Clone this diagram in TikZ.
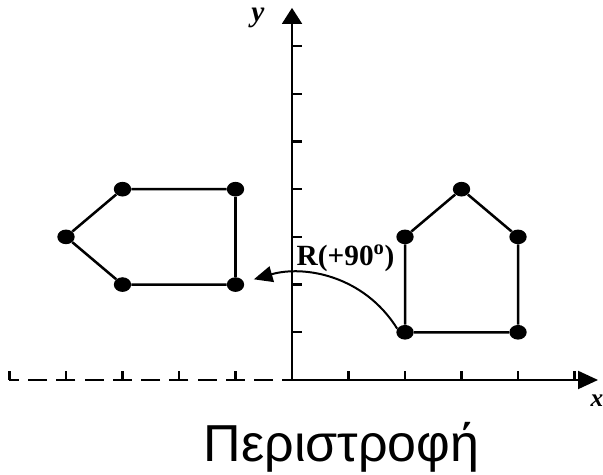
\documentclass[tikz,border=0pt]{standalone}
\usepackage{fontspec}
\setmainfont{Liberation Serif}
\newfontfamily\greekfont{Liberation Sans}
\usetikzlibrary{shapes.geometric, arrows.meta}
\tikzset{
  axisline/.style={line width=1.5pt, color=black},
  negaxis/.style={line width=1.6pt, dash pattern=on 14.25pt off 6.94pt, dash phase=7.1pt},
  tickmark/.style={line width=1.8pt},
  vertex/.style={ellipse, fill=black, inner sep=0pt, minimum width=13pt, minimum height=11pt},
  houseline/.style={line width=1.9pt},
  rotarrow/.style={-{Triangle[length=14pt,width=12pt]}, line width=1.5pt, shorten >=7.7pt},
  axislabel/.style={anchor=base, font=\bfseries\itshape\fontsize{22}{22}\selectfont}
}

\begin{document}
\begin{tikzpicture}[x=1.4893cm, y=1.2573cm]
  \useasboundingbox (-5.168,-1.971) rectangle (5.504,7.966);
  \coordinate (O) at (0,0);
  \coordinate (xend) at (5.416,0);
  \coordinate (yend) at (0,7.80);
  \coordinate (xneg) at (-5,0);
  \draw[axisline, -{Triangle[length=15pt,width=13.5pt]}] (O) -- (xend);
  \draw[axisline, -{Triangle[length=12pt,width=15pt]}] (O) -- (yend);
  \draw[negaxis] (O) -- (xneg);
  \foreach \i in {1,...,5} {
    \draw[tickmark] (\i,0) -- ++(0,0.19);
    \draw[tickmark] (-\i,0) -- ++(0,0.19);
  }
  \foreach \j in {1,...,7}
    \draw[tickmark] (0,\j) -- ++(0.177,0);
  \node[axislabel, font=\bfseries\itshape\fontsize{19}{19}\selectfont] (xlab) at (5.398,-0.566) {x};
  \node[axislabel] (ylab) at (-0.602,7.505) {y};

  \node[vertex] (h1) at (2,1) {};
  \node[vertex] (h2) at (4,1) {};
  \node[vertex] (h3) at (4,3) {};
  \node[vertex] (h4) at (3,4) {};
  \node[vertex] (h5) at (2,3) {};
  \draw[houseline] (h1) -- (h2) -- (h3) -- (h4) -- (h5) -- (h1);

  \node[vertex] (r1) at (-1,2) {};
  \node[vertex] (r2) at (-1,4) {};
  \node[vertex] (r3) at (-3,4) {};
  \node[vertex] (r4) at (-4,3) {};
  \node[vertex] (r5) at (-3,2) {};
  \draw[houseline] (r1) -- (r2) -- (r3) -- (r4) -- (r5) -- (r1);

  \draw[rotarrow] (h1.155) to[out=122, in=16] (r1.16);
  \node[anchor=base, font=\bfseries\fontsize{22}{22}\selectfont] (rotlabel) at (0.947,2.41) {R(+90\textsuperscript{o})};

  \node[anchor=base, font=\greekfont\fontsize{39}{39}\selectfont] (title) at (0.876,-1.719) {Περιστροφή};
\end{tikzpicture}
\end{document}
